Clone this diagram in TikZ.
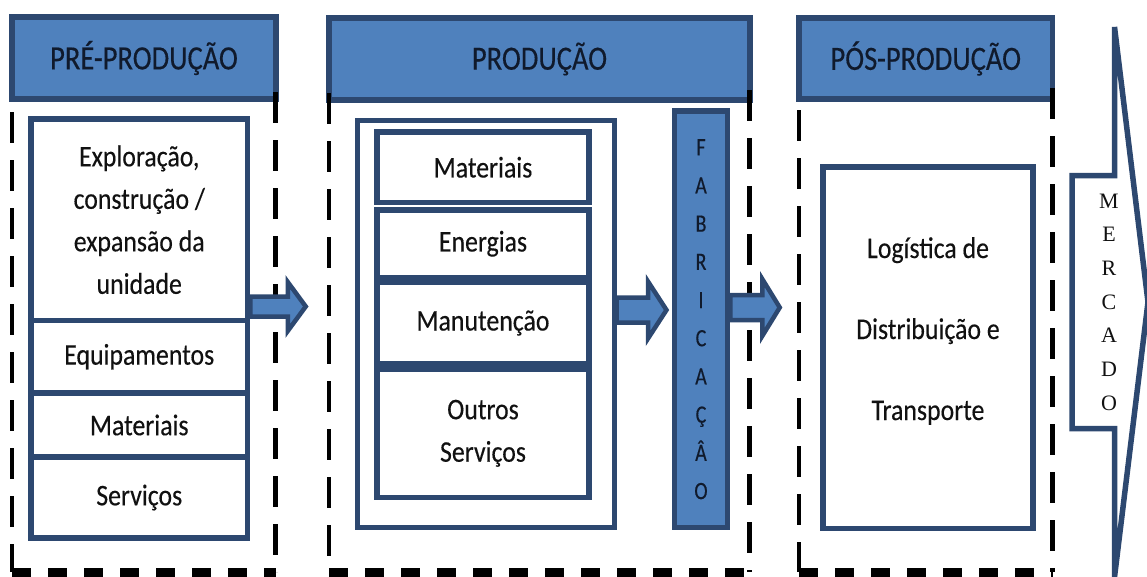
\documentclass[tikz,border=0pt]{standalone}
\usepackage{fontspec}
\setmainfont{Carlito}
\newfontfamily\headfont{Carlito}[FakeStretch=0.84, FakeBold=0.3]
\newfontfamily\bodyfont{Carlito}[FakeStretch=0.86, FakeBold=0.3]
\newfontfamily\barfont{Carlito}[FakeStretch=0.8, FakeBold=0.3]
\newfontfamily\mktfont{Liberation Serif}
\usetikzlibrary{calc}

\definecolor{cblue}{HTML}{4F81BD}
\definecolor{cnavy}{HTML}{2D4870}
\definecolor{ctext}{HTML}{111111}
\definecolor{chead}{HTML}{101A2C}

\tikzset{
  header/.style={draw=cnavy, fill=cblue, line width=5.5pt, inner sep=0pt,
    text=chead, font=\headfont\fontsize{34}{40}\selectfont},
  cell/.style={draw=cnavy, fill=white, line width=5.5pt, inner sep=0pt,
    text=ctext, align=center, font=\bodyfont\fontsize{30}{42.5}\selectfont},
  frame/.style={draw=cnavy, fill=white, line width=5pt, inner sep=0pt},
  vdash/.style={draw=black, line width=4.5pt, dash pattern=on 31pt off 17pt},
  hdash/.style={draw=black, line width=9pt, dash pattern=on 19pt off 17pt},
  barrow/.style={draw=cnavy, fill=cblue, line width=4.5pt, line join=miter},
  mktarrow/.style={draw=cnavy, fill=white, line width=5.5pt, line join=miter},
}

% rectangle node given by its two corners (border centre line)
\newcommand\boxat[7]{%
  \node[#1, minimum width={#5-#3}, minimum height={#6-#4}]
    (#2) at ({(#3+#5)/2},{(#4+#6)/2}) {#7};}

% block arrow: start, shaft length, head length, shaft half-width, head half-width
\newcommand\blockarrow[5]{%
  \draw[barrow] (#1) ++(0,-#4) -- ++(#2,0) -- ++(0,{-(#5-#4)})
    -- ++(#3,#5) -- ++(-#3,#5) -- ++(0,{-(#5-#4)}) -- ++(-#2,0) -- cycle;}

\begin{document}
\begin{tikzpicture}[x=1pt, y=-1pt]
\useasboundingbox (0,0) rectangle (1147,576);
\clip (0,0) rectangle (1147,576);

% stage headers
\boxat{header}{hpre}{12}{17}{276}{99}{PRÉ-PRODUÇÃO}
\boxat{header}{hprod}{329}{18}{750}{100}{PRODUÇÃO}
\boxat{header}{hpos}{799}{18}{1052.5}{99}{PÓS-PRODUÇÃO}

% dashed stage frames
\draw[vdash] (12,112) -- (12,572);
\draw[vdash] (275.5,92) -- (275.5,572);
\draw[hdash] (12,572) -- (275.5,572);
\draw[vdash] (329,93) -- (329,572);
\draw[vdash] (749.5,90) -- (749.5,572);
\draw[hdash] (329,572) -- (749.5,572);
\draw[vdash] (799,110) -- (799,572);
\draw[vdash] (1052.5,88) -- (1052.5,572);
\draw[hdash] (799,572) -- (1052.5,572);

% pre-production items
\boxat{cell}{expl}{31}{119}{247.5}{320.5}{Exploração,\\construção /\\expansão da\\unidade}
\boxat{cell}{equip}{31}{320.5}{247.5}{393}{Equipamentos}
\boxat{cell}{matA}{31}{393}{247.5}{457}{Materiais}
\boxat{cell}{serv}{31}{457}{247.5}{538}{Serviços}

% production inputs
\boxat{frame}{prodframe}{357.5}{120}{614}{527}{}
\boxat{cell}{matB}{377}{132}{589}{202.5}{Materiais}
\boxat{cell}{ener}{377}{210}{589}{277.5}{Energias}
\boxat{cell}{manut}{377}{282.5}{589}{363.5}{Manutenção}
\boxat{cell}{outros}{377}{369}{589}{497.5}{Outros\\Serviços}

% manufacturing bar
\boxat{header}{fab}{674.5}{111}{727.5}{527.5}{}
\node[text=chead, align=center, font=\barfont\fontsize{25}{38.2}\selectfont]
  (fabtxt) at (fab.center) {F\\A\\B\\R\\I\\C\\A\\Ç\\Â\\O};

% post-production
\boxat{cell}{logbox}{823}{167}{1033}{528.5}{}
\node[text=ctext, align=center, font=\bodyfont\fontsize{30}{81}\selectfont]
  (logtxt) at (928,331) {Logística de\\Distribuição e\\Transporte};

% flow arrows
\coordinate (lvlA) at (0,306.5);
\coordinate (lvlB) at (0,310);
\coordinate (lvlC) at (0,307.5);
\blockarrow{expl.east |- lvlA}{37.5}{18}{10}{24.5}
\blockarrow{prodframe.east |- lvlB}{31.5}{18.5}{12.5}{28.5}
\blockarrow{fab.east |- lvlC}{32}{17.5}{12.5}{28.5}

% market arrow
\draw[mktarrow] (1072,175.5) -- (1114.5,175.5) -- (1114.5,27) -- (1148,302)
  -- (1114.5,577) -- (1114.5,428.5) -- (1072,428.5) -- cycle;
\node[text=ctext, align=center, font=\mktfont\fontsize{22}{33.7}\selectfont]
  (mkt) at (1109,302) {M\\E\\R\\C\\A\\D\\O};
\end{tikzpicture}
\end{document}
